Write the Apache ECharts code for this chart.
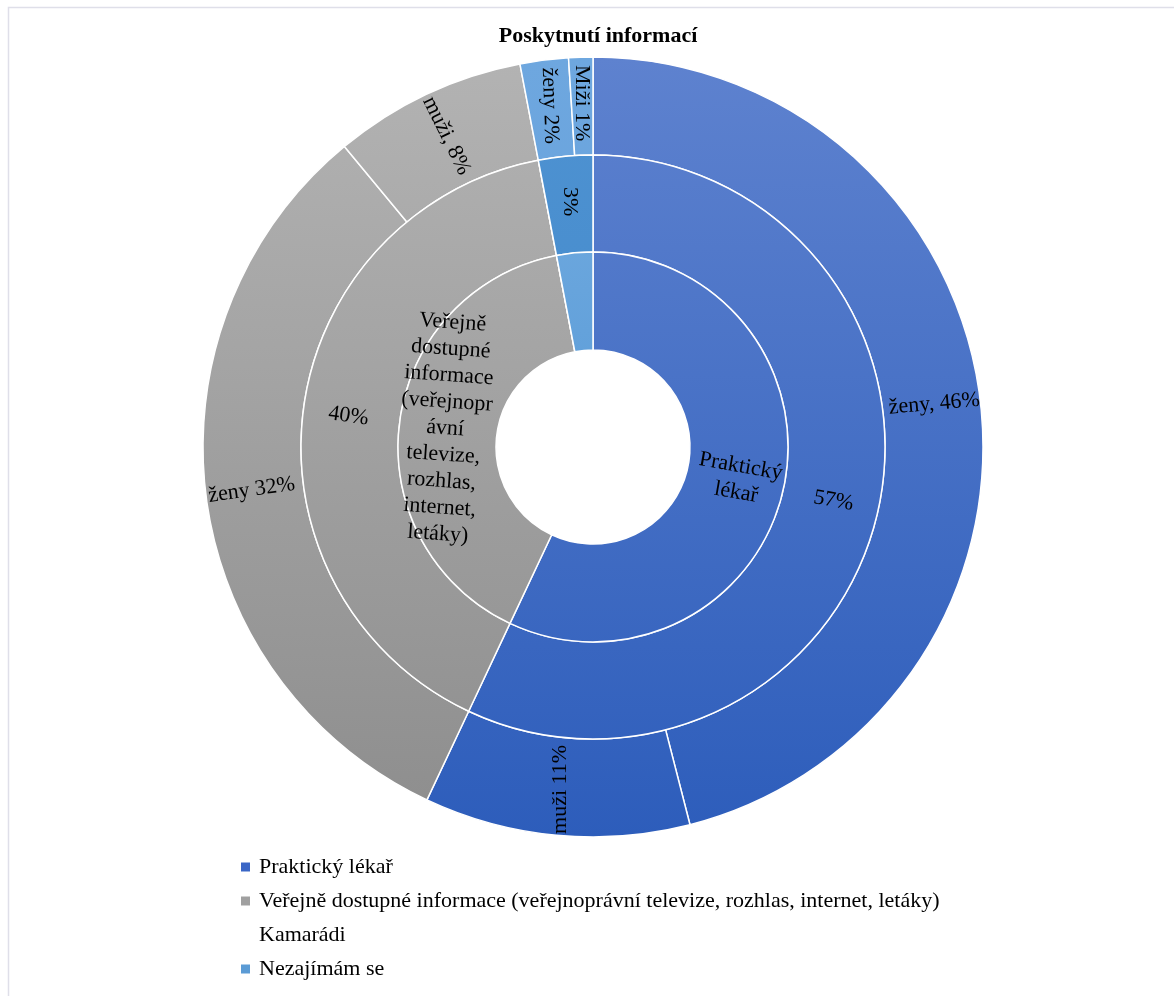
<!DOCTYPE html>
<html>
<head>
<meta charset="utf-8">
<title>Poskytnutí informací</title>
<script src="https://cdn.jsdelivr.net/npm/echarts@6/dist/echarts.min.js"></script>
<style>
  html, body { margin: 0; padding: 0; background: #fff; }
  #chart { width: 1174px; height: 996px; }
</style>
</head>
<body>
<div id="chart"></div>
<script>
// Source of information, share of respondents (%)
const chartTitle = 'Poskytnutí informací';
const categories = [
  'Praktický lékař',
  'Veřejně dostupné informace (veřejnoprávní televize, rozhlas, internet, letáky)',
  'Kamarádi',
  'Nezajímám se'
];
const categoryShares = [57, 40, 0, 3];
// wrapped names shown inside the innermost ring
const innerLabels = [
  'Praktický\nlékař',
  'Veřejně\ndostupné\ninformace\n(veřejnopr\návní\ntelevize,\nrozhlas,\ninternet,\nletáky)',
  '',
  ''
];
// outer ring: split by gender within each source
const genderNames = ['ženy', 'muži', 'ženy', 'muži', 'ženy', 'Miži'];
const genderSeparators = [', ', ' ', ' ', ', ', ' ', ' '];
const genderShares = [46, 11, 32, 8, 2, 1];
const genderParent = [0, 0, 1, 1, 3, 3];

// ---- styling ----
const CX = 593, CY = 447;
const R = [97, 195, 292, 390];
const serif = '"Liberation Serif", "DejaVu Serif", serif';
const FS = 22;

function vgrad(top, bottom) {
  return {
    type: 'linear', global: true,
    x: 0, y: CY - R[3], x2: 0, y2: CY + R[3],
    colorStops: [{ offset: 0, color: top }, { offset: 1, color: bottom }]
  };
}
const blue = vgrad('#5e82cf', '#2d5dbb');
const grey = vgrad('#b3b3b3', '#8d8d8d');
// per-ring colours for each category
const ringColors = {
  inner: [blue, grey, '#ffffff', vgrad('#78afe2', '#3f8ace')],
  middle: [blue, grey, '#ffffff', vgrad('#4f93d2', '#3a82c6')],
  outer: [blue, grey, '#ffffff', vgrad('#6ea7df', '#5d9bd8')]
};
const legendColors = ['#3a66c6', '#a0a0a0', '#ffffff', '#5b9bd5'];

const innerRotate = [-10, -4, 0, 0];
const middleRotate = [-10, -8, 0, -90];
const outerRotate = [5, 90, 8, -64, -88, -90];

const labelBase = {
  show: true, position: 'inside', color: '#000',
  fontFamily: serif, fontSize: FS, lineHeight: 26.5
};

const innerData = categories.map((name, i) => ({
  name,
  value: categoryShares[i],
  itemStyle: { color: ringColors.inner[i] },
  label: Object.assign({}, labelBase, {
    show: innerLabels[i] !== '' && categoryShares[i] > 0,
    rotate: innerRotate[i],
    formatter: () => innerLabels[i]
  })
}));

const middleData = categories.map((name, i) => ({
  name,
  value: categoryShares[i],
  itemStyle: { color: ringColors.middle[i] },
  label: Object.assign({}, labelBase, {
    show: categoryShares[i] > 0,
    rotate: middleRotate[i],
    formatter: p => p.value + '%'
  })
}));

const outerData = genderShares.map((v, i) => ({
  name: genderNames[i] + ' ' + i,
  value: v,
  itemStyle: { color: ringColors.outer[genderParent[i]] },
  label: Object.assign({}, labelBase, {
    rotate: outerRotate[i],
    formatter: p => genderNames[i] + genderSeparators[i] + p.value + '%'
  })
}));

function ring(inner, outer, data, z) {
  return {
    type: 'pie',
    center: [CX, CY],
    radius: [inner, outer],
    startAngle: 90,
    clockwise: true,
    avoidLabelOverlap: false,
    silent: true,
    animation: false,
    z,
    itemStyle: { borderColor: '#ffffff', borderWidth: 1.5 },
    labelLine: { show: false },
    data
  };
}

const chart = echarts.init(document.getElementById('chart'), null, { renderer: 'canvas' });
chart.setOption({
  backgroundColor: '#ffffff',
  animation: false,
  title: {
    text: chartTitle,
    left: CX, top: 20, textAlign: 'center',
    textStyle: { fontFamily: serif, fontSize: FS, fontWeight: 'bold', color: '#000' }
  },
  legend: {
    orient: 'vertical',
    left: 236, top: 851,
    itemWidth: 9, itemHeight: 9, itemGap: 12,
    icon: 'rect',
    selectedMode: false,
    textStyle: { fontFamily: serif, fontSize: FS, color: '#000', padding: [0, 0, 0, 4] },
    data: categories.map((name, i) => ({ name, itemStyle: { color: legendColors[i], borderWidth: 0 } }))
  },
  graphic: [{
    type: 'rect', silent: true, z: -10,
    shape: { x: 8.5, y: 7.5, width: 1300, height: 1200 },
    style: { fill: 'none', stroke: '#dfdfe9', lineWidth: 1.5 }
  }],
  series: [
    ring(R[0], R[1], innerData, 3),
    ring(R[1], R[2], middleData, 2),
    ring(R[2], R[3], outerData, 1)
  ]
});
</script>
</body>
</html>
